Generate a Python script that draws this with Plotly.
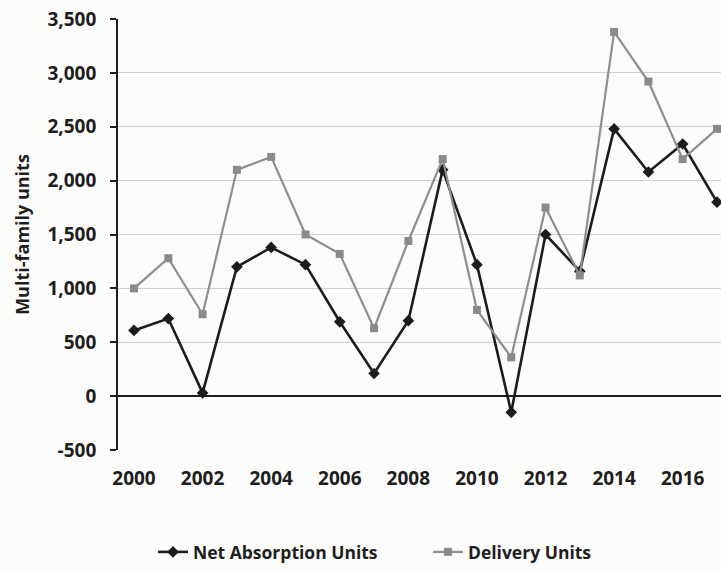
import plotly.graph_objects as go

years = list(range(2000, 2018))
net_absorption = [610, 720, 30, 1200, 1380, 1220, 690, 210, 700, 2100,
                  1220, -150, 1500, 1160, 2480, 2080, 2340, 1800]
delivery = [1000, 1280, 760, 2100, 2220, 1500, 1320, 630, 1440, 2200,
            800, 360, 1750, 1120, 3380, 2920, 2200, 2480]
x_ticks = [2000, 2002, 2004, 2006, 2008, 2010, 2012, 2014, 2016]
y_ticks = [-500, 0, 500, 1000, 1500, 2000, 2500, 3000, 3500]
y_tick_text = ["-500", "0", "500", "1,000", "1,500", "2,000", "2,500", "3,000", "3,500"]

FONT = "Open Sans"
DARK = "#1e1e1e"

fig = go.Figure()
fig.add_trace(go.Scatter(
    x=years, y=net_absorption, name="Net Absorption Units", mode="lines+markers",
    line=dict(color="#1c1c1c", width=2.6),
    marker=dict(symbol="diamond", size=9, color="#1c1c1c"),
    legend="legend",
))
fig.add_trace(go.Scatter(
    x=years, y=delivery, name="Delivery Units", mode="lines+markers",
    line=dict(color="#8e8e8e", width=2.2),
    marker=dict(symbol="square", size=8, color="#8a8a8a"),
    legend="legend2",
))

legend_font = dict(family=FONT, size=17.5, color=DARK, weight="bold")

fig.update_layout(
    width=721, height=570,
    margin=dict(l=118, r=0, t=19, b=118),
    paper_bgcolor="#fcfcfa", plot_bgcolor="#fcfcfa",
    font=dict(family=FONT, size=18, color=DARK, weight="bold"),
    showlegend=True,
    legend=dict(orientation="h", x=0.058, xanchor="left", y=-0.238, yanchor="middle",
                font=legend_font, bgcolor="rgba(0,0,0,0)"),
    legend2=dict(orientation="h", x=0.514, xanchor="left", y=-0.238, yanchor="middle",
                 font=legend_font, bgcolor="rgba(0,0,0,0)"),
    xaxis=dict(range=[1999.533, 2017.117], tickmode="array", tickvals=x_ticks,
               ticktext=[str(v) for v in x_ticks], showgrid=False, showline=False,
               zeroline=False, ticks="", ticklabelstandoff=15, automargin=False,
               tickfont=dict(family=FONT, size=19, weight="bold")),
    yaxis=dict(range=[-500, 3500], tickmode="array", tickvals=y_ticks, ticktext=y_tick_text,
               showgrid=True, gridcolor="#cfcfcf", gridwidth=1,
               zeroline=True, zerolinecolor=DARK, zerolinewidth=1.8,
               showline=True, linecolor=DARK, linewidth=1.8,
               ticks="outside", ticklen=6, tickcolor=DARK, tickwidth=1.5,
               ticklabelstandoff=10, automargin=False, ticklabeloverflow="allow",
               title=dict(text="Multi-family units", standoff=13,
                          font=dict(family=FONT, size=18, weight="bold")),
               tickfont=dict(family=FONT, size=19, weight="bold")),
)

fig.write_html("out.html", config={"displayModeBar": False},
               post_script="document.body.style.margin='0';document.body.style.background='#fcfcfa';")
